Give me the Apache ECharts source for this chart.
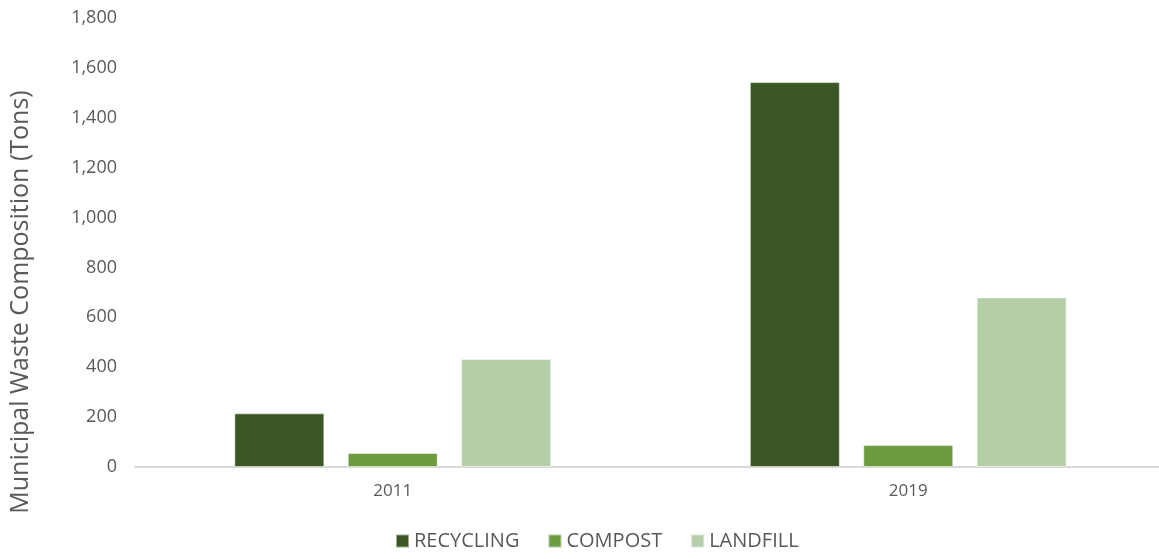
<!DOCTYPE html>
<html>
<head>
<meta charset="utf-8">
<title>Municipal Waste Composition</title>
<script src="https://cdn.jsdelivr.net/npm/echarts@6/dist/echarts.min.js"></script>
<style>
  html, body { margin: 0; padding: 0; background: #fff; overflow: hidden; }
  /* a bit wider than the window: the plot runs past the right edge, like the original */
  #main { width: 1166px; height: 559px; }
</style>
</head>
<body>
<div id="main"></div>
<script>
// data
var years = ['2011', '2019'];
var recycling = [215, 1543];
var compost = [56, 88];
var landfill = [433, 680];
var yTicks = [0, 1800, 200]; // min, max, interval

var font = 'Open Sans';
var grey = '#595959';

function bar(name, data, color) {
	return {
		name: name,
		type: 'bar',
		data: data,
		barWidth: 90,
		barGap: '26%',
		itemStyle: { color: color, borderColor: 'rgba(255,255,255,0.5)', borderWidth: 1 }
	};
}

var option = {
	animation: false,
	textStyle: { fontFamily: font },
	grid: { left: 135, right: 0, top: 18, bottom: 92 },
	graphic: [{
		type: 'text',
		x: 21,
		y: 302,
		rotation: Math.PI / 2,
		style: {
			text: 'Municipal Waste Composition (Tons)',
			fontSize: 25,
			fontFamily: font,
			fill: grey,
			align: 'center',
			verticalAlign: 'middle'
		}
	}],
	legend: {
		bottom: 3,
		left: 390,
		itemWidth: 13,
		itemHeight: 13,
		itemGap: 28,
		icon: 'rect',
		textStyle: { fontSize: 20, color: grey, fontFamily: font }
	},
	xAxis: {
		type: 'category',
		data: years,
		axisLine: { lineStyle: { color: '#d9d9d9', width: 2 } },
		axisTick: { show: false },
		axisLabel: { fontSize: 17, color: grey, margin: 16 }
	},
	yAxis: {
		type: 'value',
		min: yTicks[0],
		max: yTicks[1],
		interval: yTicks[2],
		splitLine: { show: false },
		axisLine: { show: false },
		axisTick: { show: false },
		axisLabel: {
			fontSize: 18,
			color: grey,
			margin: 18,
			formatter: function (v) { return v.toLocaleString('en-US'); }
		}
	},
	series: [
		bar('RECYCLING', recycling, '#3b5723'),
		bar('COMPOST', compost, '#6e9b40'),
		bar('LANDFILL', landfill, '#b4cfa7')
	]
};

echarts.init(document.getElementById('main')).setOption(option);
</script>
</body>
</html>
